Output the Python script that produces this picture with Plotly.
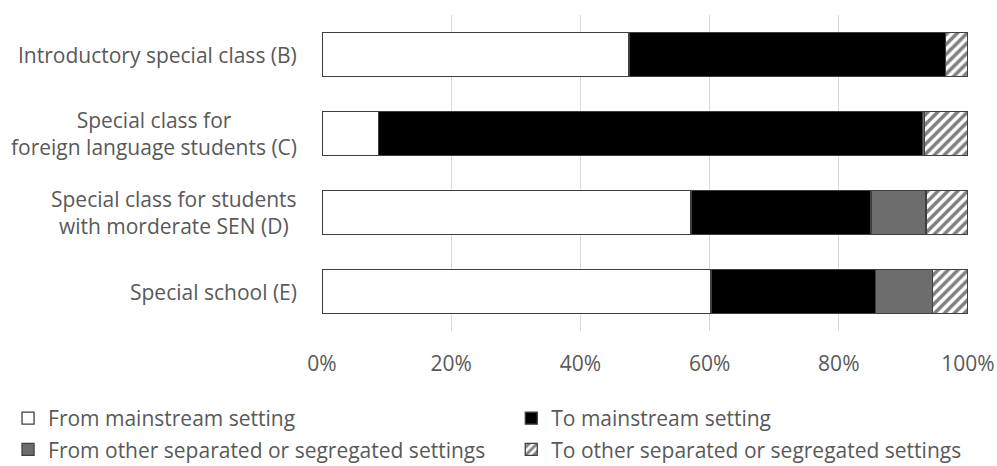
import plotly.graph_objects as go

# Settings (top to bottom) and the share of moves in each direction (%)
categories = [
    "Introductory special class (B)",
    "Special class for<br>foreign language students (C)",
    "Special class for students<br>with morderate SEN (D)",
    "Special school (E)",
]
from_mainstream = [47.5, 8.7, 57.1, 60.2]
to_mainstream = [49.0, 84.3, 27.9, 25.5]
from_other = [0.0, 0.3, 8.5, 8.8]
to_other = [3.5, 6.7, 6.5, 5.5]

series_names = [
    "From mainstream setting",
    "To mainstream setting",
    "From other separated or segregated settings",
    "To other separated or segregated settings",
]

x_tick_values = [0, 20, 40, 60, 80, 100]
x_tick_labels = ["0%", "20%", "40%", "60%", "80%", "100%"]

TEXT = "#595959"
FONT = "Open Sans"
SIZE = 21
OUTLINE = dict(color="#3f3f3f", width=1.3)

fig = go.Figure()

series = [
    (series_names[0], from_mainstream, dict(color="white"), "legend"),
    (series_names[1], to_mainstream, dict(color="black"), "legend2"),
    (series_names[2], from_other, dict(color="#6d6d6d"), "legend"),
    (series_names[3], to_other,
     dict(color="white",
          pattern=dict(shape="/", fgcolor="black", bgcolor="white",
                       size=7, solidity=0.5)),
     "legend2"),
]

for name, vals, marker, lg in series:
    fig.add_trace(go.Bar(
        y=categories, x=vals, name=name, orientation="h",
        marker=dict(line=OUTLINE, **marker),
        legend=lg, legendgroup=name,
    ))

# Category labels, centred line by line
for cat in categories:
    fig.add_annotation(
        xref="paper", yref="y", x=-0.036, y=cat, text=cat,
        xanchor="right", yanchor="middle", align="center",
        showarrow=False, font=dict(family=FONT, size=SIZE, color=TEXT),
    )

legend_style = dict(
    orientation="v", xanchor="left", yanchor="top",
    font=dict(family=FONT, size=SIZE, color=TEXT),
    bgcolor="rgba(0,0,0,0)", tracegroupgap=1, itemclick=False,
)

fig.update_layout(
    width=997, height=466,
    margin=dict(l=322, r=29, t=15, b=135, autoexpand=False),
    barmode="stack", bargap=0.44,
    plot_bgcolor="white", paper_bgcolor="white",
    font=dict(family=FONT, size=SIZE, color=TEXT),
    legend=dict(x=-0.486, y=-0.212, **legend_style),
    legend2=dict(x=0.293, y=-0.212, **legend_style),
    xaxis=dict(
        range=[0, 100], tickvals=x_tick_values, ticktext=x_tick_labels,
        showgrid=True, gridcolor="#d9d9d9", gridwidth=1,
        zeroline=False, showline=False, ticks="",
        ticklabelstandoff=18,
        tickfont=dict(family=FONT, size=SIZE, color=TEXT),
    ),
    yaxis=dict(
        autorange="reversed", showticklabels=False,
        showgrid=False, zeroline=False, showline=False, ticks="",
    ),
)

fig.write_html("out.html")
